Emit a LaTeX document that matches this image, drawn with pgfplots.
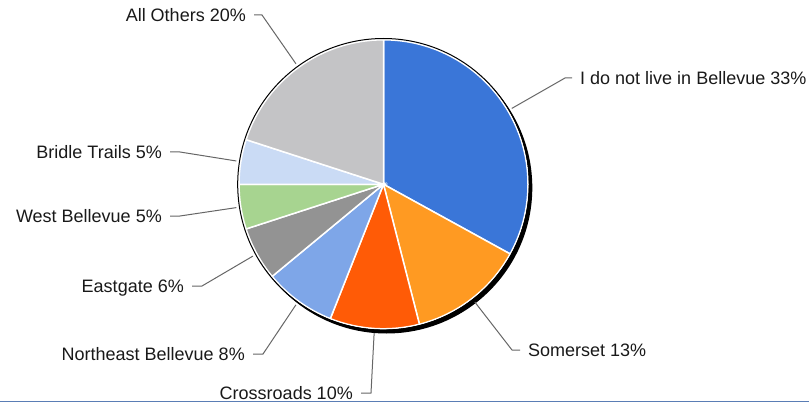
\documentclass[border=0pt]{standalone}
\usepackage{pgfplots}
\usepackage{pgfplotstable}
\pgfplotsset{compat=1.18}
\usepackage{fontspec}
\setmainfont{Liberation Sans}

\definecolor{c1}{HTML}{3A76D8}
\definecolor{c2}{HTML}{FF9A22}
\definecolor{c3}{HTML}{FF5B06}
\definecolor{c4}{HTML}{7EA6E8}
\definecolor{c5}{HTML}{939393}
\definecolor{c6}{HTML}{A7D490}
\definecolor{c7}{HTML}{CADBF5}
\definecolor{c8}{HTML}{C4C4C6}
\definecolor{leader}{HTML}{666666}
\definecolor{rule}{HTML}{5A7DB5}

% value in percent, slice colour, leader elbow (ex,ey), end of leader hx
\pgfplotstableread[col sep=comma]{
name,value,col,ex,ey,hx
I do not live in Bellevue,33,c1,565,330,572
Somerset,13,c2,512,58,520
Crossroads,10,c3,371,15,361
Northeast Bellevue,8,c4,263,54,253
Eastgate,6,c5,202,122,192
West Bellevue,5,c6,180,192,170
Bridle Trails,5,c7,180,256,170
All Others,20,c8,262,393,254
}\piedata

\begin{document}
\begin{tikzpicture}
\begin{axis}[
x=1pt, y=1pt,
xmin=0, xmax=809,
ymin=0, ymax=408,
hide axis,
clip=false,
]
\pgfplotsextra{
  \def\cx{383.5}\def\cy{223.7}\def\pr{144.5}
  % drop shadow
  \fill[black] (axis cs:386.5,220.3) circle[radius=145.8pt];
  \xdef\acc{90}
  \pgfplotstablegetrowsof{\piedata}
  \pgfmathtruncatemacro\nrows{\pgfplotsretval-1}
  \foreach \i in {0,...,\nrows}{
    \pgfplotstablegetelem{\i}{value}\of\piedata \let\pv\pgfplotsretval
    \pgfplotstablegetelem{\i}{col}\of\piedata \let\pc\pgfplotsretval
    \pgfmathsetmacro\aend{\acc-3.6*\pv}
    \fill[\pc, draw=white, line width=1.5pt] (axis cs:\cx,\cy) -- ++(\acc:\pr pt)
      arc[start angle=\acc, end angle=\aend, radius=\pr pt] -- cycle;
    \xdef\acc{\aend}
  }
  \draw[black, line width=1pt] (axis cs:\cx,\cy) circle[radius=145.8pt];
  % leaders and labels
  \xdef\acc{90}
  \foreach \i in {0,...,\nrows}{
    \pgfplotstablegetelem{\i}{value}\of\piedata \let\pv\pgfplotsretval
    \pgfplotstablegetelem{\i}{name}\of\piedata \let\pn\pgfplotsretval
    \pgfplotstablegetelem{\i}{ex}\of\piedata \let\ex\pgfplotsretval
    \pgfplotstablegetelem{\i}{ey}\of\piedata \let\ey\pgfplotsretval
    \pgfplotstablegetelem{\i}{hx}\of\piedata \let\hx\pgfplotsretval
    \pgfmathsetmacro\amid{\acc-1.8*\pv}
    \pgfmathsetmacro\aend{\acc-3.6*\pv}
    \pgfmathsetmacro\by{\ey-6.3}
    \draw[leader, line width=1pt] (axis cs:\cx,\cy) ++(\amid:149pt) -- (axis cs:\ex,\ey) -- (axis cs:\hx,\ey);
    \ifdim\hx pt>\ex pt
      \pgfmathsetmacro\lx{\hx+8}
      \node[anchor=base west, inner sep=0pt, text=black!90, font=\fontsize{18}{21}\selectfont]
        at (axis cs:\lx,\by) {\pn\ \pv\%};
    \else
      \pgfmathsetmacro\lx{\hx-8}
      \node[anchor=base east, inner sep=0pt, text=black!90, font=\fontsize{18}{21}\selectfont]
        at (axis cs:\lx,\by) {\pn\ \pv\%};
    \fi
    \xdef\acc{\aend}
  }
  \draw[rule, line width=1pt] (axis cs:0,7) -- (axis cs:809,7);
}
\end{axis}
\pgfresetboundingbox
\path[use as bounding box] (current axis.south west) rectangle (current axis.north east);
\end{tikzpicture}
\end{document}
